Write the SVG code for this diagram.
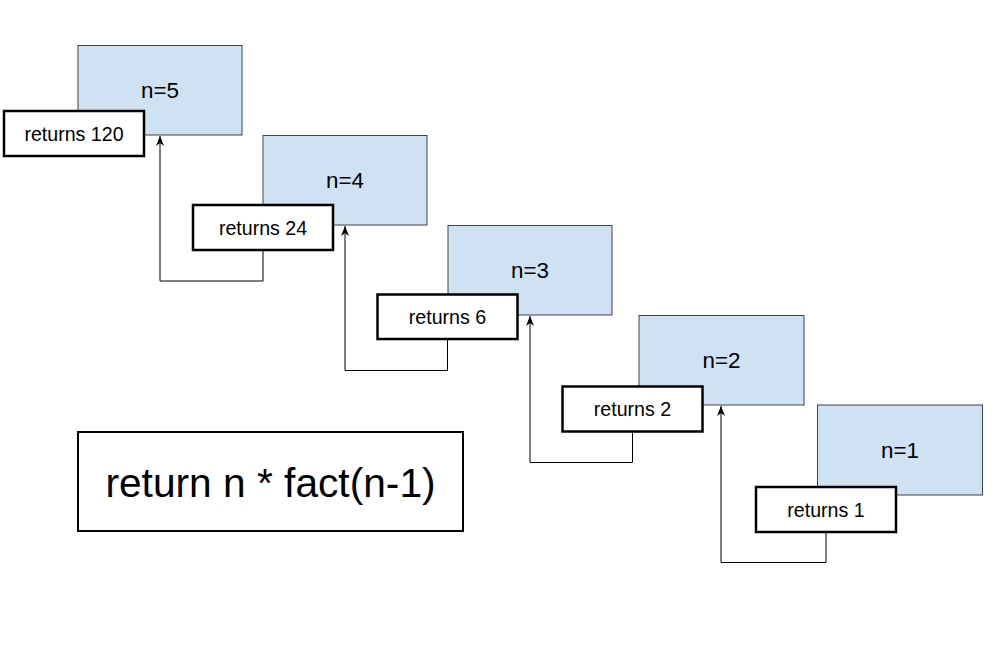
<svg xmlns="http://www.w3.org/2000/svg" width="992" height="662" viewBox="0 0 992 662">
  <style>
    .call { fill: #cfe2f3; stroke: #434343; stroke-width: 1; }
    .ret { fill: #ffffff; stroke: #000000; stroke-width: 2.5; }
    .big { fill: #ffffff; stroke: #000000; stroke-width: 2; }
    .lbl { font-family: "Liberation Sans", Arial, sans-serif; fill: #000000; text-anchor: middle; }
    .n { font-size: 22.4px; }
    .r { font-size: 19.6px; }
    .b { font-size: 40.7px; }
    .conn { fill: none; stroke: #000000; stroke-width: 1; marker-end: url(#arrow); }
  </style>
  <defs>
    <marker id="arrow" markerUnits="userSpaceOnUse" markerWidth="10" markerHeight="10" viewBox="0 0 10 10" refX="10" refY="5" orient="auto">
      <path d="M0,1 L10,5 L0,9 L3,5 z" fill="#000000"/>
    </marker>
  </defs>
  <rect width="992" height="662" fill="#ffffff"/>

  <g id="connectors">
    <path class="conn" d="M263,250 V281 H160 V136"/>
    <path class="conn" d="M447.5,339 V370.5 H345 V226"/>
    <path class="conn" d="M632.5,432 V462.5 H530 V316"/>
    <path class="conn" d="M826,532 V562.5 H721 V406"/>
  </g>

  <g id="call5">
    <rect class="call" x="78" y="45.5" width="164" height="89.5"/>
    <text class="lbl n" x="160" y="98">n=5</text>
  </g>
  <g id="ret5">
    <rect class="ret" x="4" y="111" width="140" height="45"/>
    <text class="lbl r" x="74" y="140.5">returns 120</text>
  </g>

  <g id="call4">
    <rect class="call" x="263" y="135.5" width="164" height="89.5"/>
    <text class="lbl n" x="345" y="188">n=4</text>
  </g>
  <g id="ret4">
    <rect class="ret" x="193" y="205" width="140" height="45"/>
    <text class="lbl r" x="263" y="234.5">returns 24</text>
  </g>

  <g id="call3">
    <rect class="call" x="448" y="225.5" width="164" height="89.5"/>
    <text class="lbl n" x="530" y="278">n=3</text>
  </g>
  <g id="ret3">
    <rect class="ret" x="377.5" y="294.5" width="140" height="44.5"/>
    <text class="lbl r" x="447.5" y="324">returns 6</text>
  </g>

  <g id="call2">
    <rect class="call" x="639" y="315.5" width="165" height="89.5"/>
    <text class="lbl n" x="721.5" y="368">n=2</text>
  </g>
  <g id="ret2">
    <rect class="ret" x="562.5" y="386.5" width="140" height="45"/>
    <text class="lbl r" x="632.5" y="416">returns 2</text>
  </g>

  <g id="call1">
    <rect class="call" x="817.5" y="405" width="165" height="90"/>
    <text class="lbl n" x="900" y="458">n=1</text>
  </g>
  <g id="ret1">
    <rect class="ret" x="756" y="487" width="140" height="45"/>
    <text class="lbl r" x="826" y="516.5">returns 1</text>
  </g>

  <g id="formula">
    <rect class="big" x="78" y="432" width="385" height="99"/>
    <text class="lbl b" x="270.5" y="496.5">return n * fact(n-1)</text>
  </g>
</svg>
